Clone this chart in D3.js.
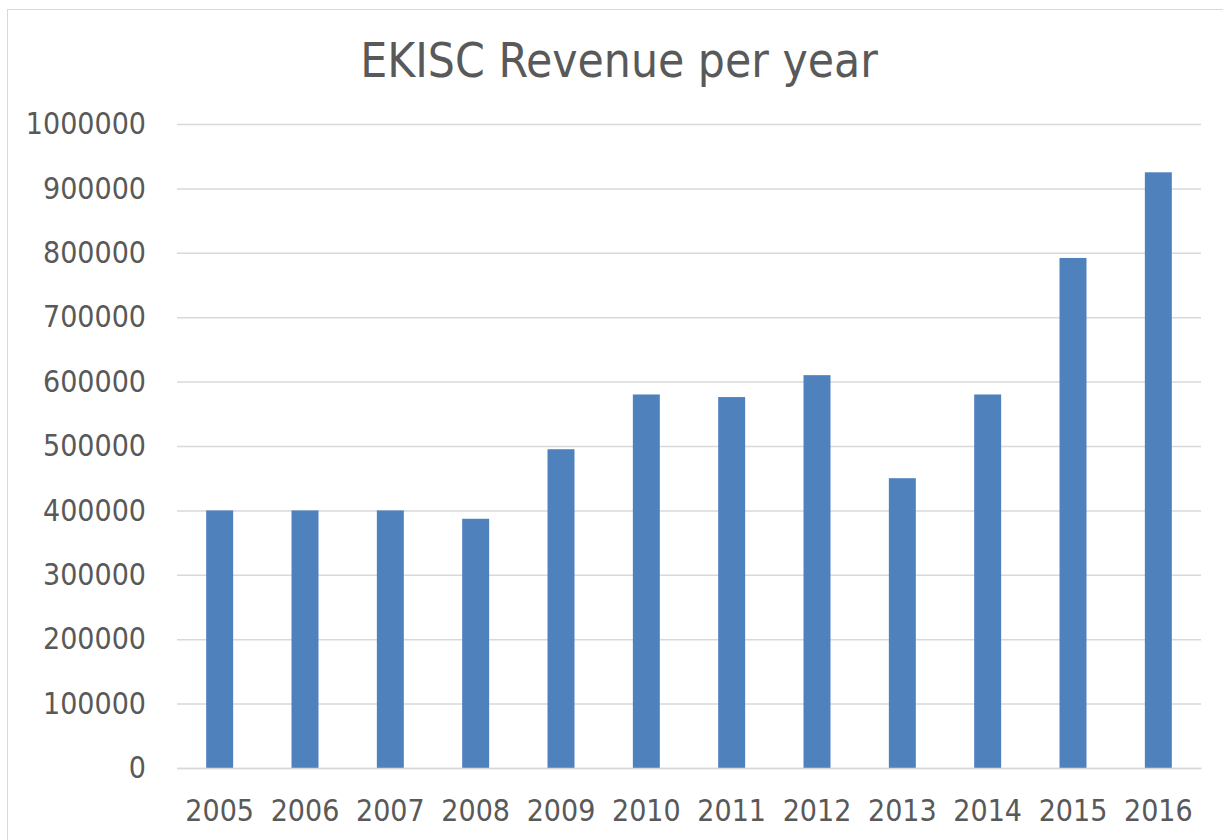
<!DOCTYPE html>
<html>
<head>
<meta charset="utf-8">
<script src="https://cdn.jsdelivr.net/npm/d3@7"></script>
<style>
  html, body { margin: 0; padding: 0; background: #fff; }
  svg { display: block; font-family: "DejaVu Sans Condensed", "DejaVu Sans", sans-serif; }
</style>
</head>
<body>
<div id="chart"></div>
<script>
// revenue per year
const years = ['2005','2006','2007','2008','2009','2010','2011','2012','2013','2014','2015','2016'];
const revenue = [400000, 400000, 400000, 387000, 495000, 580000, 576000, 610000, 450000, 580000, 792000, 925000];
const yTicks = [0, 100000, 200000, 300000, 400000, 500000, 600000, 700000, 800000, 900000, 1000000];

const W = 1223, H = 840;
const m = { left: 177, right: 22, top: 124, bottom: 72 };
const textCol = '#595959', gridCol = '#d9d9d9', barCol = '#4f81bd';

const svg = d3.select('#chart').append('svg').attr('width', W).attr('height', H);

// chart area border (runs off the right/bottom edge like the screenshot)
svg.append('rect').attr('x', 7.5).attr('y', 9.5).attr('width', W + 20).attr('height', H + 20)
  .attr('fill', '#fff').attr('stroke', gridCol).attr('stroke-width', 1);

const x = d3.scaleBand().domain(years).range([m.left, W - m.right]).paddingInner(0.684).paddingOuter(0.342);
const y = d3.scaleLinear().domain([0, 1000000]).range([H - m.bottom, m.top]);

// gridlines + y labels
const yAx = svg.append('g').attr('transform', 'translate(' + m.left + ',0)')
  .call(d3.axisLeft(y).tickValues(yTicks).tickFormat(d3.format('d')).tickSize(-(W - m.right - m.left)).tickPadding(31));
yAx.select('.domain').remove();
yAx.selectAll('line').attr('stroke', gridCol).attr('stroke-width', 1.5);
yAx.selectAll('text').attr('fill', textCol).style('font-size', '30px')
  .style('font-family', '"DejaVu Sans Condensed", "DejaVu Sans", sans-serif');

// bars
svg.append('g').selectAll('rect').data(revenue).join('rect')
  .attr('x', (d, i) => x(years[i]))
  .attr('y', d => y(d))
  .attr('width', x.bandwidth())
  .attr('height', d => y(0) - y(d))
  .attr('fill', barCol);

// x axis line + labels
const xAx = svg.append('g').attr('transform', 'translate(0,' + y(0) + ')')
  .call(d3.axisBottom(x).tickSize(0).tickPadding(32));
xAx.select('.domain').attr('stroke', gridCol).attr('stroke-width', 1.5);
xAx.selectAll('text').attr('fill', textCol).style('font-size', '30px')
  .style('font-family', '"DejaVu Sans Condensed", "DejaVu Sans", sans-serif');

// title
svg.append('text').attr('x', 619).attr('y', 77).attr('text-anchor', 'middle')
  .attr('fill', textCol).style('font-size', '47.5px')
  .text('EKISC Revenue per year');
</script>
</body>
</html>
